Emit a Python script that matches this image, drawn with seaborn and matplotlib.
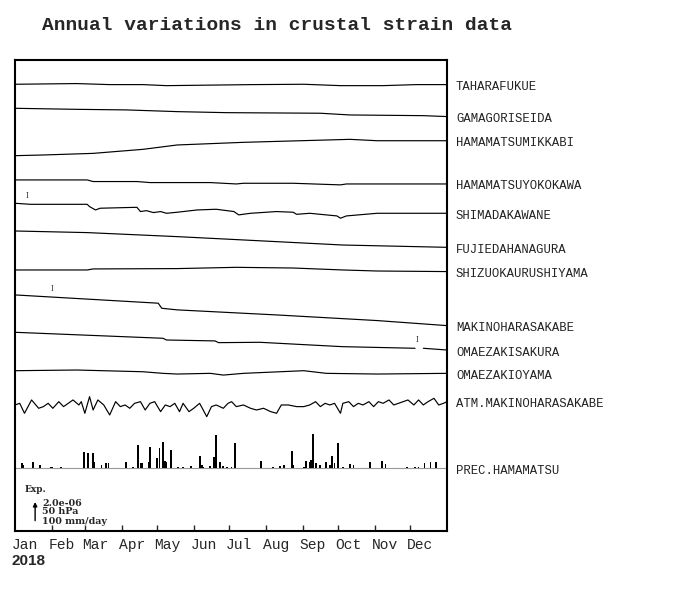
import matplotlib
matplotlib.use("Agg")
import matplotlib.pyplot as plt
import matplotlib.transforms as mtransforms
import numpy as np
import pandas as pd
import seaborn as sns

# strain traces, values in 1e-6 relative to 1 Jan, knots (day of year)
stations = ["TAHARAFUKUE", "GAMAGORISEIDA", "HAMAMATSUMIKKABI", "HAMAMATSUYOKOKAWA",
            "SHIMADAKAWANE", "FUJIEDAHANAGURA", "SHIZUOKAURUSHIYAMA", "MAKINOHARASAKABE",
            "OMAEZAKISAKURA", "OMAEZAKIOYAMA"]

tahara_day = [0, 52, 80, 108, 128, 201, 244, 275, 311, 339, 365]
tahara_val = [0, 0.06, -0.03, -0.03, -0.12, -0.03, 0.0, -0.12, -0.12, -0.03, -0.03]

gamagori_day = [0, 52, 94, 137, 179, 258, 283, 345, 365]
gamagori_val = [0, -0.09, -0.14, -0.29, -0.38, -0.43, -0.58, -0.64, -0.72]

mikkabi_day = [0, 24, 66, 108, 137, 193, 283, 306, 365]
mikkabi_val = [0, 0.06, 0.20, 0.55, 0.93, 1.16, 1.42, 1.30, 1.30]

yokokawa_day = [0, 61, 66, 103, 114, 165, 187, 193, 235, 275, 280, 365]
yokokawa_val = [0, 0, -0.14, -0.14, -0.23, -0.23, -0.35, -0.29, -0.29, -0.43, -0.35, -0.35]

shimada_day = [0, 13, 61, 63, 68, 72, 103, 106, 111, 117, 123, 128, 137, 154, 170,
               185, 189, 199, 221, 235, 238, 249, 272, 275, 280, 306, 365]
shimada_val = [0, -0.09, -0.09, -0.29, -0.58, -0.43, -0.35, -0.72, -0.64, -0.81, -0.72,
               -0.87, -0.78, -0.58, -0.52, -0.72, -1.01, -0.87, -0.72, -0.78, -0.96,
               -0.87, -1.10, -1.30, -1.10, -0.87, -0.87]

fujieda_day = [0, 61, 137, 193, 277, 365]
fujieda_val = [0, -0.14, -0.49, -0.78, -1.22, -1.42]

urushiyama_day = [0, 61, 66, 137, 187, 235, 277, 306, 365]
urushiyama_val = [0, 0, 0.09, 0.12, 0.23, 0.17, 0, -0.09, -0.14]

sakabe_day = [0, 121, 124, 137, 221, 306, 365]
sakabe_val = [0, -0.72, -1.16, -1.30, -1.74, -2.23, -2.67]

sakura_day = [0, 125, 128, 169, 172, 207, 249, 277, 338, np.nan, 345, 365]
sakura_val = [0, -0.52, -0.67, -0.75, -0.90, -0.87, -1.10, -1.25, -1.39, np.nan, -1.39, -1.54]

oyama_day = [0, 52, 108, 125, 137, 165, 176, 193, 244, 263, 306, 365]
oyama_val = [0, 0.06, -0.09, -0.23, -0.29, -0.23, -0.38, -0.23, 0, -0.23, -0.29, -0.23]

# atmospheric pressure anomaly (hPa)
atm_day = [0, 4, 8, 14, 20, 24, 28, 32, 37, 41, 45, 49, 54, 56, 59, 63, 66, 70, 75, 80,
           85, 89, 93, 97, 101, 106, 110, 114, 118, 123, 127, 131, 135, 139, 142, 147,
           151, 156, 162, 166, 170, 176, 180, 183, 187, 193, 199, 204, 210, 216, 221,
           225, 231, 238, 244, 249, 254, 258, 262, 266, 270, 275, 277, 282, 286, 290,
           294, 299, 303, 307, 311, 316, 320, 324, 328, 332, 337, 341, 345, 349, 354,
           358, 362, 365]
atm_hpa = [0, 3.6, -18.1, 10.9, -7.2, -3.6, 3.6, -7.2, 7.2, -3.6,
           3.6, 10.9, 0, 7.2, -18.1, 18.1, -10.9, 10.9, 0, -21.7,
           7.2, -3.6, 0, -7.2, 3.6, 7.2, -10.9, 3.6, 7.2, -14.5,
           0, -3.6, 3.6, -14.5, 3.6, -14.5, -7.2, 3.6, -25.4, -3.6,
           0, -7.2, 3.6, 7.2, -3.6, 0, -7.2, -10.9, -7.2, -14.5,
           -18.1, 0, 0, -3.6, -3.6, 0, 7.2, -3.6, 3.6, 0,
           3.6, -18.1, 3.6, 7.2, -3.6, 3.6, 0, 7.2, -3.6, 7.2,
           3.6, 10.9, 0, 3.6, 7.2, 10.9, 0, 10.9, 0, 7.2,
           14.5, 0, 3.6, 7.2]

# daily precipitation (mm/day)
prec_day = [6, 7, 15, 21, 30, 31, 39, 58, 62, 66, 67, 73, 77, 79, 94, 100, 104, 106, 107,
            113, 114, 120, 122, 125, 127, 128, 132, 138, 142, 149, 156, 158, 159, 165,
            168, 170, 173, 176, 179, 183, 186, 208, 218, 224, 227, 234, 235, 244, 246,
            249, 250, 252, 254, 258, 263, 266, 268, 270, 273, 277, 283, 286, 300, 310,
            313, 331, 338, 341, 346, 351, 356]
prec_mm = [22, 14, 25, 14, 7, 4, 7, 72, 68, 65, 25, 14, 22, 22, 26, 7, 101, 22, 22,
           25, 94, 43, 87, 112, 32, 29, 80, 7, 7, 10, 51, 14, 7, 10,
           48, 145, 25, 10, 7, 7, 109, 33, 7, 10, 14, 77, 14, 7, 33,
           29, 36, 149, 22, 14, 29, 14, 55, 22, 109, 7, 19, 14, 26, 30,
           19, 4, 7, 4, 22, 26, 26]

# marks for instrument adjustments
adj_station = ["SHIMADAKAWANE", "MAKINOHARASAKABE", "OMAEZAKISAKURA"]
adj_day = [10, 31, 340]

months = ["Jan", "Feb", "Mar", "Apr", "May", "Jun", "Jul", "Aug", "Sep", "Oct", "Nov", "Dec"]
month_start = [0, 31, 59, 90, 120, 151, 181, 212, 243, 273, 304, 334]

# layout: vertical offset of each trace (in 1e-6 units, 2e-6 == scale arrow)
offsets = [-2.11, -4.20, -8.32, -10.43, -12.46, -14.87, -18.26, -20.43, -23.68, -27.02]
atm_offset = -30.0
prec_offset = -35.5
hpa_per_unit = 25.0
mm_per_unit = 50.0

days_list = [tahara_day, gamagori_day, mikkabi_day, yokokawa_day, shimada_day,
             fujieda_day, urushiyama_day, sakabe_day, sakura_day, oyama_day]
vals_list = [tahara_val, gamagori_val, mikkabi_val, yokokawa_val, shimada_val,
             fujieda_val, urushiyama_val, sakabe_val, sakura_val, oyama_val]

rows = []
for name, d, v, off in zip(stations, days_list, vals_list, offsets):
    seg = 0
    for di, vi in zip(d, v):
        if np.isnan(di):
            seg += 1
            continue
        rows.append({"seg": f"{name}-{seg}", "day": di, "y": vi + off})
for di, p in zip(atm_day, atm_hpa):
    rows.append({"seg": "ATM", "day": di, "y": atm_offset + p / hpa_per_unit})
df = pd.DataFrame(rows)

sns.set_style("white")
plt.rcParams["font.family"] = ["Liberation Mono", "DejaVu Sans"]

fig = plt.figure(figsize=(7, 6), dpi=100)
ax = fig.add_axes([15 / 700, 1 - 531 / 600, 432 / 700, 471 / 600])

sns.lineplot(data=df, x="day", y="y", units="seg", estimator=None, sort=False,
             color="black", lw=0.85, ax=ax, legend=False)

ax.axhline(prec_offset, color="#999999", lw=0.8, zorder=1)
ax.bar(prec_day, np.array(prec_mm) / mm_per_unit, bottom=prec_offset, width=1.5,
       color="black", linewidth=0, zorder=2)

# station labels at end of each trace
last_vals = [v[-1] + off for v, off in zip(vals_list, offsets)]
names = stations + ["ATM.MAKINOHARASAKABE", "PREC.HAMAMATSU"]
last_vals += [atm_offset + atm_hpa[-1] / hpa_per_unit, prec_offset]
for name, yv in zip(names, last_vals):
    ax.annotate(name, xy=(365, yv), xytext=(9, -2.5), textcoords="offset pixels",
                ha="left", va="center", fontsize=8.8, color="#222222",
                annotation_clip=False)

# adjustment marks
for st, d in zip(adj_station, adj_day):
    i = stations.index(st)
    xs = [x for x in days_list[i] if not np.isnan(x)]
    ys = [y for y in vals_list[i] if not np.isnan(y)]
    ax.annotate("I", xy=(d, np.interp(d, xs, ys) + offsets[i]),
                xytext=(0, 8), textcoords="offset pixels", ha="center", va="center",
                fontsize=6, family="Liberation Serif")

ax.set_xlim(0, 365)
ax.set_ylim(-40.96, 0)
ax.set_xticks(month_start[1:])
ax.set_xticklabels([])
ax.set_yticks([])
ax.tick_params(axis="x", direction="in", length=4, width=1, bottom=True, top=False)
ax.set_xlabel("")
ax.set_ylabel("")
for s in ax.spines.values():
    s.set_linewidth(1.5)
    s.set_color("black")

trans = mtransforms.blended_transform_factory(ax.transData, ax.transAxes)
for m, d in zip(months, month_start):
    ax.text(d - 2.5, -0.03, m, transform=trans, ha="left", va="center", fontsize=10.5)

# scale bar
ax.annotate("", xy=(17, -38.2), xytext=(17, -40.3),
            arrowprops=dict(arrowstyle="-|>", color="black", lw=1, mutation_scale=6))
fig.text(25 / 700, 1 - 490 / 600, "Exp.", family="DejaVu Serif", weight="bold",
         fontsize=6.5, ha="left", va="center")
for yy, t in zip([503, 512, 521], ["2.0e-06", "50 hPa", "100 mm/day"]):
    fig.text(42 / 700, 1 - yy / 600, t, family="DejaVu Serif", weight="bold",
             fontsize=6.8, ha="left", va="center")

fig.text(277 / 700, 1 - 25 / 600, "Annual variations in crustal strain data",
         ha="center", va="center", fontsize=14, weight="bold")
fig.text(12 / 700, 1 - 561 / 600, "2018", family="Liberation Sans", weight="bold",
         fontsize=11, ha="left", va="center")

fig.savefig("out.png", dpi=100)
